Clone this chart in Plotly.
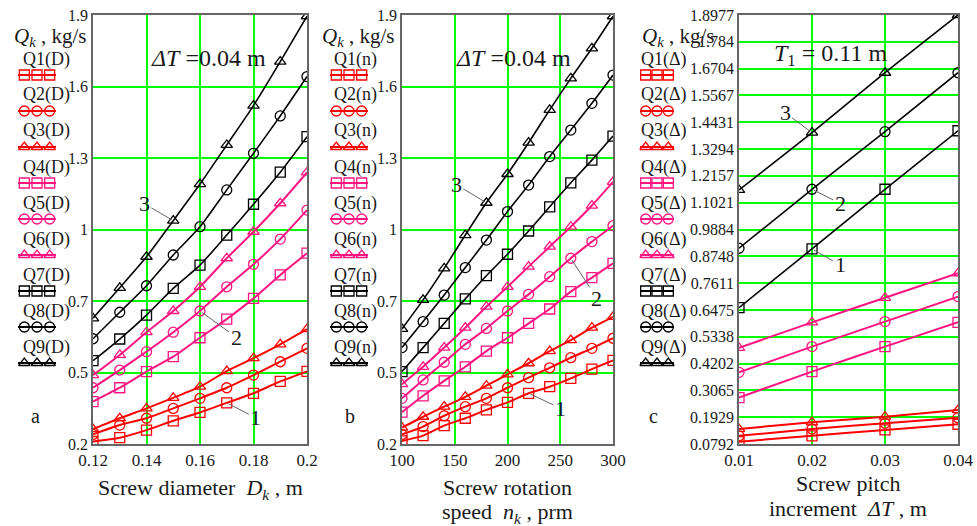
import plotly.graph_objects as go

W, H = 977, 526

# ---------------- data ----------------
D_vals = [0.12, 0.13, 0.14, 0.15, 0.16, 0.17, 0.18, 0.19, 0.20]
Q1_D = [0.210, 0.225, 0.255, 0.292, 0.325, 0.363, 0.401, 0.448, 0.488]
Q2_D = [0.238, 0.275, 0.302, 0.341, 0.381, 0.423, 0.473, 0.526, 0.579]
Q3_D = [0.259, 0.302, 0.341, 0.383, 0.427, 0.489, 0.540, 0.595, 0.655]
Q4_D = [0.368, 0.423, 0.487, 0.546, 0.621, 0.695, 0.777, 0.870, 0.956]
Q5_D = [0.423, 0.493, 0.566, 0.643, 0.727, 0.823, 0.912, 1.012, 1.127]
Q6_D = [0.473, 0.553, 0.643, 0.727, 0.823, 0.936, 1.041, 1.154, 1.276]
Q7_D = [0.530, 0.616, 0.711, 0.817, 0.909, 1.028, 1.150, 1.277, 1.418]
Q8_D = [0.617, 0.722, 0.827, 0.949, 1.061, 1.207, 1.352, 1.500, 1.656]
Q9_D = [0.698, 0.819, 0.942, 1.085, 1.230, 1.385, 1.541, 1.715, 1.895]

n_vals = [100, 120, 140, 160, 180, 200, 220, 240, 260, 280, 300]
Q1_n = [0.212, 0.233, 0.273, 0.302, 0.335, 0.365, 0.401, 0.427, 0.460, 0.497, 0.531]
Q2_n = [0.238, 0.269, 0.312, 0.348, 0.381, 0.423, 0.463, 0.502, 0.542, 0.579, 0.619]
Q3_n = [0.265, 0.308, 0.348, 0.387, 0.431, 0.476, 0.520, 0.568, 0.612, 0.661, 0.704]
Q4_n = [0.326, 0.391, 0.450, 0.506, 0.568, 0.621, 0.678, 0.735, 0.804, 0.859, 0.916]
Q5_n = [0.381, 0.454, 0.524, 0.595, 0.658, 0.727, 0.793, 0.863, 0.936, 1.002, 1.065]
Q6_n = [0.437, 0.506, 0.582, 0.661, 0.744, 0.823, 0.903, 0.982, 1.061, 1.145, 1.239]
Q7_n = [0.487, 0.582, 0.678, 0.775, 0.867, 0.952, 1.044, 1.140, 1.235, 1.325, 1.420]
Q8_n = [0.582, 0.685, 0.790, 0.899, 1.008, 1.121, 1.226, 1.339, 1.444, 1.550, 1.662]
Q9_n = [0.656, 0.771, 0.896, 1.028, 1.156, 1.270, 1.394, 1.524, 1.649, 1.768, 1.895]

dT_vals = [0.01, 0.02, 0.03, 0.04]
Q1_d = [0.089, 0.114, 0.139, 0.163]
Q2_d = [0.114, 0.143, 0.167, 0.191]
Q3_d = [0.143, 0.171, 0.195, 0.223]
Q4_d = [0.276, 0.386, 0.492, 0.595]
Q5_d = [0.383, 0.492, 0.598, 0.704]
Q6_d = [0.487, 0.595, 0.699, 0.803]
Q7_d = [0.657, 0.906, 1.159, 1.407]
Q8_d = [0.909, 1.159, 1.403, 1.653]
Q9_d = [1.156, 1.399, 1.653, 1.8977]

yticks_ab_vals = [0.2, 0.48333, 0.76667, 1.05, 1.33333, 1.61667, 1.9]
yticks_ab_text = ["0.2", "0.5", "0.7", "1", "1.3", "1.6", "1.9"]
yticks_c_text = ["0.0792", "0.1929", "0.3065", "0.4202", "0.5338", "0.6475", "0.7611",
                 "0.8748", "0.9884", "1.1021", "1.2157", "1.3294", "1.4431", "1.5567",
                 "1.6704", "1.784", "1.8977"]
xticks_a = [0.12, 0.14, 0.16, 0.18, 0.2]
xticks_b = [100, 150, 200, 250, 300]
xticks_c = [0.01, 0.02, 0.03, 0.04]

labels_a = ["Q1(D)", "Q2(D)", "Q3(D)", "Q4(D)", "Q5(D)", "Q6(D)", "Q7(D)", "Q8(D)", "Q9(D)"]
labels_b = ["Q1(n)", "Q2(n)", "Q3(n)", "Q4(n)", "Q5(n)", "Q6(n)", "Q7(n)", "Q8(n)", "Q9(n)"]
labels_c = ["Q1(Δ)", "Q2(Δ)", "Q3(Δ)", "Q4(Δ)", "Q5(Δ)", "Q6(Δ)", "Q7(Δ)", "Q8(Δ)", "Q9(Δ)"]

# ---------------- styles ----------------
RED, PINK, BLACK = "#ff0000", "#ff1480", "#000000"
colors = [RED, RED, RED, PINK, PINK, PINK, BLACK, BLACK, BLACK]
symbols = ["square-open", "circle-open", "triangle-up-open"] * 3
widths = [2, 2, 2, 2, 2, 2, 1.6, 1.6, 1.6]
FONT = "Liberation Serif"
TXT = "#1a1a1a"

def px(x):
    return x / W

def py(y):
    return 1 - y / H

panels = [
    dict(x=D_vals, ys=[Q1_D, Q2_D, Q3_D, Q4_D, Q5_D, Q6_D, Q7_D, Q8_D, Q9_D],
         labels=labels_a, leg_x=(18, 56), lab_cx=46, title_cx=50),
    dict(x=n_vals, ys=[Q1_n, Q2_n, Q3_n, Q4_n, Q5_n, Q6_n, Q7_n, Q8_n, Q9_n],
         labels=labels_b, leg_x=(330, 368), lab_cx=355, title_cx=358),
    dict(x=dT_vals, ys=[Q1_d, Q2_d, Q3_d, Q4_d, Q5_d, Q6_d, Q7_d, Q8_d, Q9_d],
         labels=labels_c, leg_x=(640, 674), lab_cx=664, title_cx=678),
]

fig = go.Figure()

for p_i, p in enumerate(panels):
    ax = "" if p_i == 0 else str(p_i + 1)
    for s in range(9):
        fig.add_trace(go.Scatter(
            x=p["x"], y=p["ys"][s], mode="lines+markers",
            line=dict(color=colors[s], width=widths[s], shape="spline", smoothing=0.6),
            marker=dict(symbol=symbols[s], size=10, color=colors[s],
                        line=dict(width=1.3, color=colors[s])),
            xaxis="x" + ax, yaxis="y" + ax, showlegend=False, hoverinfo="skip"))

# legend samples on an overlay pixel axis
for p in panels:
    x0, x1 = p["leg_x"]
    for s in range(9):
        ys = 75 + 36 * s
        fig.add_trace(go.Scatter(
            x=[x0, x1], y=[ys, ys], mode="lines",
            line=dict(color=colors[s], width=1.8),
            xaxis="x4", yaxis="y4", showlegend=False, hoverinfo="skip"))
        fig.add_trace(go.Scatter(
            x=[x0 + (x1 - x0) * f for f in (1 / 6, 0.5, 5 / 6)], y=[ys] * 3, mode="markers",
            marker=dict(symbol=symbols[s], size=10, color=colors[s],
                        line=dict(width=1.3, color=colors[s])),
            xaxis="x4", yaxis="y4", showlegend=False, hoverinfo="skip", cliponaxis=False))

ydom = [py(444), py(15)]
common_x = dict(showgrid=True, gridcolor="#00ff00", gridwidth=1.6, zeroline=False,
                showline=True, mirror=True, linecolor="#666666", linewidth=1.5,
                ticks="", automargin=False, tickfont=dict(family=FONT, size=17, color=TXT))
common_y = dict(showgrid=True, gridcolor="#00ff00", gridwidth=1.6, zeroline=False,
                showline=True, mirror=True, linecolor="#666666", linewidth=1.5,
                ticks="", automargin=False, tickfont=dict(family=FONT, size=16, color=TXT), domain=ydom)

c_step = (1.8977 - 0.0792) / 16
yticks_c_vals = [0.0792 + c_step * i for i in range(17)]

fig.update_layout(
    width=W, height=H, margin=dict(l=0, r=0, t=0, b=0, autoexpand=False),
    paper_bgcolor="white", plot_bgcolor="rgba(0,0,0,0)", showlegend=False,
    xaxis=dict(common_x, domain=[px(93), px(307)], range=[0.12, 0.2],
               tickvals=xticks_a, ticktext=["0.12", "0.14", "0.16", "0.18", "0.2"], anchor="y"),
    yaxis=dict(common_y, range=[0.2, 1.9], tickvals=yticks_ab_vals, ticktext=yticks_ab_text, anchor="x"),
    xaxis2=dict(common_x, domain=[px(402), px(613)], range=[100, 300],
                tickvals=xticks_b, anchor="y2"),
    yaxis2=dict(common_y, range=[0.2, 1.9], tickvals=yticks_ab_vals, ticktext=yticks_ab_text, anchor="x2"),
    xaxis3=dict(common_x, domain=[px(739), px(958)], range=[0.01, 0.04],
                tickvals=xticks_c, ticktext=["0.01", "0.02", "0.03", "0.04"], anchor="y3"),
    yaxis3=dict(common_y, range=[0.0792, 1.8977], tickvals=yticks_c_vals, ticktext=yticks_c_text, anchor="x3"),
    xaxis4=dict(domain=[0, 1], range=[0, W], visible=False, fixedrange=True, automargin=False, anchor="y4"),
    yaxis4=dict(domain=[0, 1], range=[H, 0], visible=False, fixedrange=True, automargin=False, anchor="x4"),
)

ann = []

def text_ann(x, y, text, size, xanchor="center"):
    ann.append(dict(x=px(x), y=py(y), xref="paper", yref="paper", text=text, showarrow=False,
                    xanchor=xanchor, yanchor="middle", font=dict(family=FONT, size=size, color=TXT)))

qk = "<i>Q</i><sub><i>k</i></sub> , kg/s"
for p in panels:
    text_ann(p["title_cx"], 37, qk, 21)
    for s, lab in enumerate(p["labels"]):
        text_ann(p["lab_cx"], 59 + 36 * s, lab, 18)

text_ann(35, 416, "a", 20)
text_ann(350, 416, "b", 20)
text_ann(653, 416, "c", 20)

text_ann(208, 58, "<i>ΔT</i> =0.04 m", 24)
text_ann(513, 58, "<i>ΔT</i> =0.04 m", 24)
text_ann(830, 55, "<i>T</i><sub>1</sub> = 0.11 m", 24)

text_ann(200, 489, "Screw diameter  <i>D</i><sub><i>k</i></sub> , m", 22)
text_ann(507, 487, "Screw rotation", 22)
text_ann(507, 513, "speed  <i>n</i><sub><i>k</i></sub> , prm", 22)
text_ann(848, 483, "Screw pitch", 22)
text_ann(848, 508, "increment  <i>ΔT</i> , m", 22)

# curve number callouts (point to data markers)
callouts = [
    ("x", "y", D_vals[3], Q9_D[3], "3", -29, -17),
    ("x", "y", D_vals[4], Q5_D[4], "2", 36, 26),
    ("x", "y", D_vals[5], Q1_D[5], "1", 29, 15),
    ("x2", "y2", n_vals[4], Q9_n[4], "3", -30, -18),
    ("x2", "y2", n_vals[8], Q5_n[8], "2", 26, 40),
    ("x2", "y2", n_vals[6], Q1_n[6], "1", 32, 15),
    ("x3", "y3", dT_vals[1], Q9_d[1], "3", -27, -20),
    ("x3", "y3", dT_vals[1], Q8_d[1], "2", 28, 14),
    ("x3", "y3", dT_vals[1], Q7_d[1], "1", 28, 16),
]
for xr, yr, xv, yv, t, dx, dy in callouts:
    ann.append(dict(x=xv, y=yv, xref=xr, yref=yr, text=t, showarrow=True, arrowhead=0,
                    arrowwidth=1, arrowcolor="#666666", ax=dx, ay=dy, standoff=2,
                    font=dict(family=FONT, size=22, color=TXT)))

fig.update_layout(annotations=ann)
fig.write_html("out.html", config={"displayModeBar": False},
               post_script="document.body.style.margin='0';document.body.style.overflow='hidden';")
